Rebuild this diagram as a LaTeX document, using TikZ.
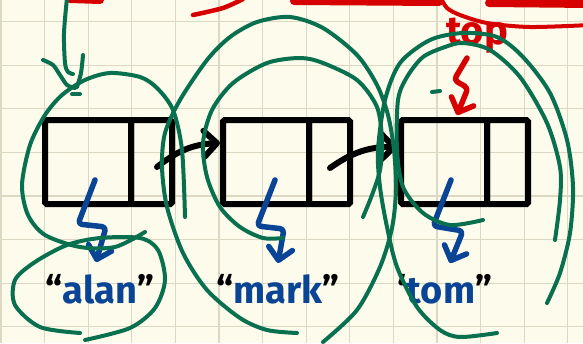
\documentclass[tikz,border=0pt]{standalone}
\usepackage{fontspec}
\setmainfont{Fira Sans}
\usetikzlibrary{arrows.meta}
\definecolor{paper}{HTML}{FDFBEC}
\definecolor{gridc}{HTML}{DCD8C4}
\definecolor{bluei}{HTML}{0A4595}
\definecolor{greeni}{HTML}{08704F}
\definecolor{redi}{HTML}{D70000}
\begin{document}
\begin{tikzpicture}[x=1pt,y=-1pt,
  cellbox/.style={draw=black,line width=6pt,inner sep=0pt,outer sep=0pt,minimum height=84pt,rounded corners=1.5pt},
  lcell/.style={cellbox,minimum width=86pt},
  rcell/.style={cellbox,minimum width=41pt},
  ptr/.style={draw=black,line width=6pt,line cap=round,line join=round,-{Straight Barb[round,length=13pt,width=26pt]}},
  bref/.style={draw=bluei,line width=5.5pt,line cap=round,line join=round,rounded corners=4pt,-{Straight Barb[round,length=12pt,width=24pt]}},
  rref/.style={draw=redi,line width=5.5pt,line cap=round,line join=round,rounded corners=4pt,-{Straight Barb[round,length=12pt,width=24pt]}},
  grn/.style={draw=greeni,line width=4pt,line cap=round,line join=round},
  redline/.style={draw=redi,line cap=round,line join=round},
  gridline/.style={draw=gridc,line width=1.2pt},
  word/.style={text=bluei,font=\fontsize{38}{40}\selectfont\bfseries,inner sep=0pt,anchor=base},
  topword/.style={text=redi,font=\fontsize{40}{42}\selectfont\bfseries,inner sep=0pt,anchor=base}]
\useasboundingbox (0,0) rectangle (583,343);
\fill[paper] (0,0) rectangle (583,343);
\clip (0,0) rectangle (583,343);
% grid
\foreach \i in {0,...,13} \draw[gridline] ({1+43.6*\i},0) -- ({1+43.6*\i},343);
\foreach \j in {0,...,7} \draw[gridline] (0,{21.5+43.6*\j}) -- (583,{21.5+43.6*\j});

% boxes
\node[lcell] (b1l) at (88,162) {};
\node[rcell,anchor=west] (b1r) at (b1l.east) {};
\node[lcell] (b2l) at (266,162) {};
\node[rcell,anchor=west] (b2r) at (b2l.east) {};
\node[lcell] (b3l) at (444,162) {};
\node[rcell,anchor=west] (b3r) at (b3l.east) {};

% texts
\node[word] (t1) at (100,303) {\textcolor{black}{“}alan\textcolor{black}{”}};
\node[word] (t2) at (278,303) {\textcolor{black}{“}mark\textcolor{black}{”}};
\node[word] (t3) at (445,303) {\textcolor{black}{‘}tom\textcolor{black}{”}};
\node[topword] (top) at (477,44) {top};

% next pointers
\draw[ptr] ([shift={(5.5,5)}]b1r.center) to[bend left=18] ([shift={(-3,-19)}]b2l.west);
\draw[ptr] ([shift={(0.5,6)}]b2r.center) to[bend left=18] ([shift={(-4,-15)}]b3l.west);

% data references
\draw[bref] ([shift={(7,18)}]b1l.center) -- ++(-17,44) -- ++(28,3) -- ([shift={(-4,-41)}]t1.base);
\draw[bref] ([shift={(9,18)}]b2l.center) -- ++(-18,46) -- ++(27,3) -- ([shift={(0,-40)}]t2.base);
\draw[bref] ([shift={(7,18)}]b3l.center) -- ++(-18,46) -- ++(30,5) -- ([shift={(5,-40)}]t3.base);

% top reference
\draw[rref] ([shift={(-10,14)}]top.base) -- ++(-13,22) -- ++(14,8) -- ([shift={(13,-5)}]b3l.north);

% red strokes at the top
\draw[redline,line width=8pt] (70,-1) -- (100,0);
\draw[redline,line width=4.5pt] plot[smooth] coordinates {(193,15) (223,8) (243,-1)};
\draw[redline,line width=8pt] (294,1) -- (439,2);
\draw[redline,line width=4pt] plot[smooth] coordinates {(441,-2) (447,8) (460,15) (487,23) (530,27) (590,25)};
\draw[redline,line width=8pt] (489,3) -- (590,4);

% green annotations
\draw[grn] plot[smooth] coordinates {(67,-2) (64,33) (65,63) (68,72) (73,74)};
\draw[grn] plot[smooth] coordinates {(43,60) (53,65) (60,75) (67,85) (75,88)};
\draw[grn] plot[smooth] coordinates {(83,55) (81,73) (77,87)};
\draw[grn] (72,94) -- (80,94);
\draw[grn] (432,92) -- (440,91);
% loop around box 1
\draw[grn] plot[smooth] coordinates {(185,217) (182,150) (173,110) (157,88) (140,77) (110,73) (85,80) (62,95) (45,115) (30,145) (22,185) (28,215) (45,235) (80,247) (115,247) (145,232)};
% loop around "alan"
\draw[grn] plot[smooth] coordinates {(80,333) (40,327) (15,305) (15,280) (35,262) (67,245) (100,238) (140,238) (158,250) (165,280) (155,308) (130,328) (85,340)};
% outer loop around box 2
\draw[grn] plot[smooth] coordinates {(297,333) (267,330) (240,318) (207,290) (183,253) (167,207) (162,167) (165,133) (180,100) (207,60) (230,37) (257,22) (290,17) (323,28) (357,55) (377,85) (388,115) (394,150) (396,190) (392,228) (380,267) (357,310) (323,342)};
% inner loop around box 2
\draw[grn] plot[smooth] coordinates {(283,238) (263,238) (240,227) (220,207) (207,177) (203,143) (212,110) (233,83) (267,63) (300,58) (323,63) (357,80) (377,107) (382,140) (380,170) (372,195) (363,217)};
% outer loop around box 3
\draw[grn] plot[smooth] coordinates {(497,333) (460,337) (440,330) (417,307) (397,267) (387,227) (380,187) (378,150) (385,100) (400,63) (430,40) (463,33) (497,37) (523,57) (550,93) (567,140) (573,187) (570,233) (560,273) (547,303)};
% inner loop around box 3
\draw[grn] plot[smooth] coordinates {(483,220) (450,225) (423,213) (403,187) (397,150) (398,100) (407,77) (423,57) (445,47) (463,43) (490,50) (520,77) (547,123) (560,167) (560,200) (555,240)};
\end{tikzpicture}
\end{document}
